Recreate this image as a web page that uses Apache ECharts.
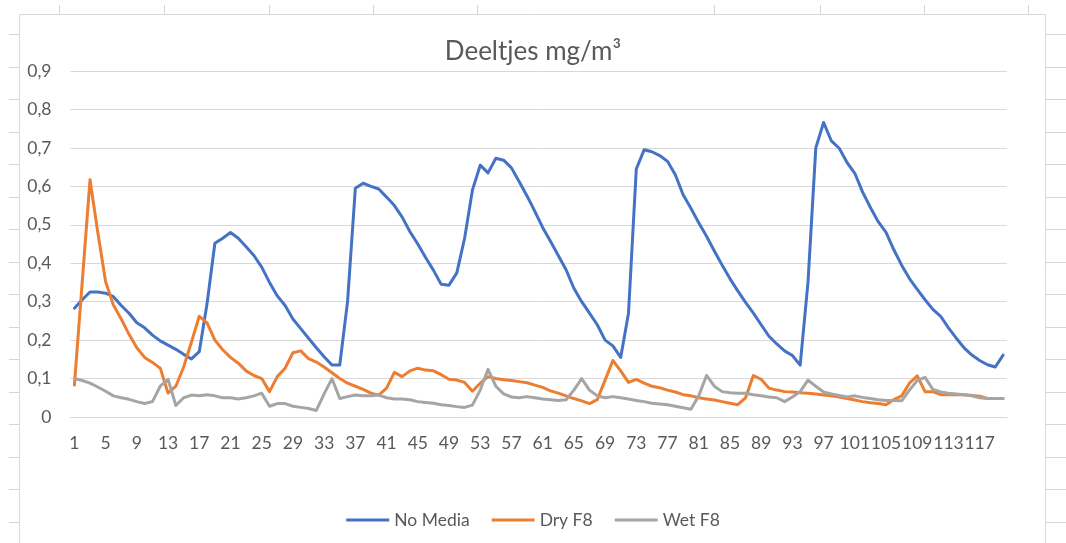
<!DOCTYPE html>
<html>
<head>
<meta charset="utf-8">
<script src="https://cdn.jsdelivr.net/npm/echarts@6/dist/echarts.min.js"></script>
<style>
html,body{margin:0;padding:0;background:#fff;}
#chart{width:1066px;height:543px;}
</style>
</head>
<body>
<div id="chart"></div>
<script>
var categories = ['1','2','3','4','5','6','7','8','9','10','11','12','13','14','15','16','17','18','19','20',
'21','22','23','24','25','26','27','28','29','30','31','32','33','34','35','36','37','38','39','40',
'41','42','43','44','45','46','47','48','49','50','51','52','53','54','55','56','57','58','59','60',
'61','62','63','64','65','66','67','68','69','70','71','72','73','74','75','76','77','78','79','80',
'81','82','83','84','85','86','87','88','89','90','91','92','93','94','95','96','97','98','99','100',
'101','102','103','104','105','106','107','108','109','110','111','112','113','114','115','116','117','118','119','120'];

var noMedia = [0.283,0.305,0.325,0.325,0.322,0.313,0.29,0.27,0.245,0.232,0.213,0.198,0.187,0.176,0.163,0.151,0.17,0.295,0.452,0.465,
0.48,0.465,0.443,0.42,0.39,0.35,0.315,0.29,0.255,0.23,0.205,0.18,0.157,0.135,0.135,0.3,0.595,0.608,0.6,0.593,
0.572,0.55,0.52,0.482,0.45,0.415,0.382,0.345,0.343,0.375,0.465,0.59,0.655,0.635,0.673,0.668,0.648,0.612,0.575,0.535,
0.493,0.457,0.42,0.383,0.335,0.3,0.27,0.24,0.2,0.185,0.155,0.27,0.645,0.695,0.69,0.68,0.665,0.63,0.578,0.543,
0.505,0.47,0.432,0.395,0.36,0.328,0.298,0.27,0.24,0.21,0.19,0.172,0.16,0.135,0.35,0.7,0.766,0.718,0.699,0.662,
0.634,0.585,0.545,0.508,0.48,0.435,0.395,0.36,0.332,0.305,0.28,0.262,0.232,0.205,0.18,0.161,0.147,0.136,0.13,0.161];

var dryF8 = [0.083,0.35,0.617,0.48,0.352,0.291,0.255,0.215,0.18,0.155,0.142,0.127,0.062,0.08,0.13,0.195,0.262,0.245,0.2,0.175,
0.155,0.14,0.12,0.108,0.1,0.066,0.105,0.127,0.167,0.172,0.152,0.143,0.13,0.115,0.1,0.088,0.08,0.072,0.062,0.057,
0.075,0.116,0.105,0.12,0.127,0.122,0.12,0.11,0.098,0.096,0.09,0.067,0.088,0.105,0.1,0.097,0.095,0.092,0.089,0.083,
0.077,0.068,0.062,0.055,0.048,0.042,0.035,0.045,0.096,0.147,0.12,0.09,0.098,0.088,0.08,0.076,0.07,0.065,0.058,0.055,
0.05,0.047,0.044,0.04,0.036,0.032,0.05,0.108,0.098,0.075,0.07,0.066,0.065,0.063,0.062,0.06,0.057,0.055,0.052,0.048,
0.044,0.04,0.037,0.035,0.032,0.045,0.055,0.088,0.107,0.066,0.066,0.058,0.058,0.058,0.058,0.056,0.054,0.048,0.048,0.048];

var wetF8 = [0.1,0.095,0.088,0.078,0.067,0.055,0.05,0.046,0.04,0.035,0.04,0.08,0.098,0.03,0.05,0.057,0.055,0.058,0.055,0.05,
0.05,0.047,0.05,0.055,0.062,0.028,0.035,0.035,0.028,0.025,0.022,0.017,0.06,0.1,0.048,0.053,0.057,0.055,0.055,0.057,
0.05,0.047,0.047,0.045,0.04,0.038,0.036,0.032,0.03,0.027,0.025,0.031,0.07,0.124,0.08,0.06,0.052,0.05,0.053,0.05,
0.047,0.045,0.043,0.045,0.07,0.1,0.07,0.055,0.05,0.053,0.05,0.047,0.043,0.04,0.036,0.034,0.032,0.028,0.024,0.02,
0.055,0.108,0.08,0.066,0.063,0.062,0.062,0.058,0.055,0.052,0.05,0.04,0.052,0.066,0.096,0.08,0.065,0.06,0.056,0.052,
0.055,0.051,0.048,0.045,0.043,0.043,0.042,0.07,0.095,0.103,0.072,0.065,0.062,0.06,0.058,0.055,0.05,0.048,0.048,0.048];

var seriesNames = ['No Media', 'Dry F8', 'Wet F8'];
var yTicks = [0, 0.1, 0.2, 0.3, 0.4, 0.5, 0.6, 0.7, 0.8, 0.9];

// Spreadsheet cell lines around the chart (decoration)
var sheetLine = '#d6d6d6';
var deco = [];
var colX = [59.5, 164.5, 269.5, 373.5, 477.5, 714.5, 820.5, 924.5, 1028.5];
colX.forEach(function (x) {
  deco.push({type:'line', shape:{x1:x, y1:5, x2:x, y2:14}, style:{stroke:sheetLine, lineWidth:1}, silent:true});
});
for (var k = 0; k < 16; k++) {
  var yy = Math.round(34 + 32.5 * k) + 0.5;
  if (yy > 14) {
    deco.push({type:'line', shape:{x1:9, y1:yy, x2:19, y2:yy}, style:{stroke:sheetLine, lineWidth:1}, silent:true});
    deco.push({type:'line', shape:{x1:1046, y1:yy, x2:1066, y2:yy}, style:{stroke:sheetLine, lineWidth:1}, silent:true});
  }
}
deco.push({type:'rect', shape:{x:19.5, y:14.5, width:1026, height:560}, style:{fill:'#ffffff', stroke:'#d9d9d9', lineWidth:1}, z:-10, silent:true});

var textColor = '#595959';
var fontFam = 'Lato, "Open Sans", sans-serif';

var chart = echarts.init(document.getElementById('chart'), null, {renderer:'canvas'});
chart.setOption({
  animation: false,
  backgroundColor: '#ffffff',
  color: ['#4472C4', '#ED7D31', '#A5A5A5'],
  graphic: deco,
  title: {
    text: 'Deeltjes mg/m³',
    left: 'center',
    top: 34,
    textStyle: {color: textColor, fontFamily: fontFam, fontSize: 26, fontWeight: 'normal'}
  },
  legend: {
    data: seriesNames.map(function (n) { return {name: n, icon: 'rect'}; }),
    left: 'center',
    top: 506,
    itemWidth: 43,
    itemHeight: 3,
    itemGap: 22,
    textStyle: {color: textColor, fontFamily: fontFam, fontSize: 17.5}
  },
  grid: {left: 70.5, right: 59, top: 71, bottom: 126, containLabel: false},
  xAxis: {
    type: 'category',
    data: categories,
    boundaryGap: true,
    axisLine: {show: true, lineStyle: {color: '#d9d9d9', width: 1}},
    axisTick: {show: false},
    axisLabel: {interval: 3, color: textColor, fontFamily: fontFam, fontSize: 17.5, margin: 17, hideOverlap: false}
  },
  yAxis: {
    type: 'value',
    min: 0,
    max: 0.9,
    interval: 0.1,
    axisLine: {show: false},
    axisTick: {show: false},
    splitLine: {lineStyle: {color: '#d9d9d9', width: 1}},
    axisLabel: {
      color: textColor, fontFamily: fontFam, fontSize: 17.5, margin: 19,
      formatter: function (v) {
        var t = yTicks.reduce(function (a, b) { return Math.abs(b - v) < Math.abs(a - v) ? b : a; });
        return t === 0 ? '0' : t.toFixed(1).replace('.', ',');
      }
    }
  },
  series: [
    {name: seriesNames[0], type: 'line', data: noMedia, showSymbol: false, symbol: 'none', lineStyle: {width: 3, join: 'round', cap: 'round'}, z: 3},
    {name: seriesNames[1], type: 'line', data: dryF8, showSymbol: false, symbol: 'none', lineStyle: {width: 3, join: 'round', cap: 'round'}, z: 4},
    {name: seriesNames[2], type: 'line', data: wetF8, showSymbol: false, symbol: 'none', lineStyle: {width: 3, join: 'round', cap: 'round'}, z: 5}
  ]
});
</script>
</body>
</html>
